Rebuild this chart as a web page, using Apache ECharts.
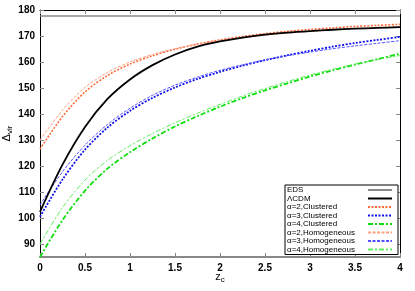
<!DOCTYPE html>
<html><head><meta charset="utf-8">
<script src="https://cdn.jsdelivr.net/npm/echarts@6/dist/echarts.min.js"></script>
<style>html,body{margin:0;padding:0;background:#fff}#c{width:415px;height:291px}</style>
</head><body><div id="c"></div>
<script>
var zs = [0,0.25,0.5,0.75,1,1.25,1.5,1.75,2,2.25,2.5,2.75,3,3.25,3.5,3.75,4];
var edsValue = 177.65;
var lcdm = [102.4,120.5,135,145.8,153.3,158.8,162.9,165.9,167.9,169.4,170.5,171.3,171.9,172.4,172.8,173.1,173.4];
var a2Clustered = [126.5,139,148.5,154.8,159.2,162.4,164.9,166.9,168.5,169.8,170.9,171.8,172.5,173.1,173.7,174.1,174.5];
var a3Clustered = [100.5,114.8,126.3,134.8,141.2,146.2,150.2,153.5,156.2,158.6,160.7,162.6,164.3,165.9,167.3,168.5,169.7];
var a4Clustered = [85,99.2,110.5,119,125.3,130.6,135.2,139.2,142.8,146.1,149.1,151.8,154.4,156.8,159,161.1,163.2];
var a2Homog = [130,141.5,150.2,156,160,162.9,165.1,166.8,168.2,169.3,170.3,171.1,171.8,172.4,172.9,173.3,173.6];
var a3Homog = [105,117.8,128,136,142.2,147.2,151.1,154.2,156.8,158.9,160.8,162.4,163.8,165.1,166.2,167.2,168.2];
var a4Homog = [90,104,114.6,122.2,127.8,132.5,136.6,140.3,143.7,146.9,149.8,152.5,155,157.2,159.2,160.9,162.5];
var yTicks = [90,100,110,120,130,140,150,160,170,180];
var names = ['EDS','\u039bCDM','\u03b1=2,Clustered','\u03b1=3,Clustered','\u03b1=4,Clustered','\u03b1=2,Homogeneous','\u03b1=3,Homogeneous','\u03b1=4,Homogeneous'];

function pairs(v){ return zs.map(function(z,i){ return [z, v[i]]; }); }
function line(name, vals, color, width, type, zz){
  return {name:name, type:'line', data:pairs(vals), showSymbol:false, symbol:'none', smooth:0.3,
    lineStyle:{color:color, width:width, type:type}, itemStyle:{color:color}, z: zz||2, silent:true};
}
var font = 'Liberation Sans, Arial, sans-serif';
var chart = echarts.init(document.getElementById('c'), null, {renderer:'canvas'});
chart.setOption({
  animation:false,
  backgroundColor:'#fff',
  grid:{left:40, right:15, top:10, bottom:34, outerBoundsMode:'none', containLabel:false},
  legend:{
    orient:'vertical', left:285, top:185, align:'right',
    itemWidth:24, itemHeight:6, itemGap:0.5, padding:[1,5,1,2],
    borderColor:'#000', borderWidth:1, borderRadius:0, backgroundColor:'#fff',
    itemStyle:{opacity:0},
    formatter:'{t|{name}}',
    textStyle:{fontFamily:font, fontSize:8, color:'#000', lineHeight:8,
      rich:{t:{width:76, align:'left', fontFamily:font, fontSize:8, lineHeight:8, color:'#000'}}},
    data:names
  },
  xAxis:[{
    type:'value', min:0, max:4, interval:0.5,
    name:'z{s|c}', nameLocation:'middle', nameGap:13, nameMoveOverlap:false,
    nameTextStyle:{fontFamily:font, fontSize:11, color:'#000', rich:{s:{fontSize:8, padding:[6,0,0,0], fontFamily:font}}},
    axisLine:{onZero:false, lineStyle:{color:'#888', width:2}},
    axisTick:{inside:true, length:4, lineStyle:{color:'#888'}},
    axisLabel:{fontFamily:font, fontSize:10, fontWeight:'bold', color:'#000', margin:6},
    splitLine:{show:false}
  },{
    type:'value', min:0, max:4, interval:0.5, position:'top',
    axisLine:{onZero:false, lineStyle:{color:'#000', width:1}},
    axisTick:{inside:true, length:4, lineStyle:{color:'#888'}},
    axisLabel:{show:false}, splitLine:{show:false}
  }],
  yAxis:[{
    type:'value', min:85, max:180,
    name:'\u0394{s|vir}', nameLocation:'middle', nameGap:26, nameRotate:90, nameMoveOverlap:false,
    nameTextStyle:{fontFamily:font, fontSize:11, color:'#000', rich:{s:{fontSize:8, fontFamily:font, padding:[6,0,0,0]}}},
    axisLine:{onZero:false, lineStyle:{color:'#000', width:1}},
    axisTick:{inside:true, length:4, lineStyle:{color:'#888'}, customValues:yTicks},
    axisLabel:{fontFamily:font, fontSize:10, fontWeight:'bold', color:'#000', margin:5, customValues:yTicks},
    splitLine:{show:false}
  },{
    type:'value', min:85, max:180, position:'right',
    axisLine:{onZero:false, lineStyle:{color:'#000', width:1}},
    axisTick:{inside:true, length:4, lineStyle:{color:'#888'}, customValues:yTicks},
    axisLabel:{show:false}, splitLine:{show:false}
  }],
  series:[
    {name:names[0], type:'line', data:[[0,edsValue],[4,edsValue]], showSymbol:false, symbol:'none',
      lineStyle:{color:'#888', width:1.5}, itemStyle:{color:'#888'}, silent:true},
    line(names[1], lcdm, '#000', 1.8, 'solid', 3),
    line(names[2], a2Clustered, '#ff6a3a', 1.6, [2,1.5]),
    line(names[3], a3Clustered, '#1010ee', 1.8, [2,1.5]),
    line(names[4], a4Clustered, '#10dd10', 1.8, [5,2,2,2]),
    line(names[5], a2Homog, '#ffa080', 1, [3,1.5]),
    line(names[6], a3Homog, '#5050ff', 1, [3,1.5]),
    line(names[7], a4Homog, '#60ee60', 1, [5,2,2,2])
  ]
});
</script></body></html>
